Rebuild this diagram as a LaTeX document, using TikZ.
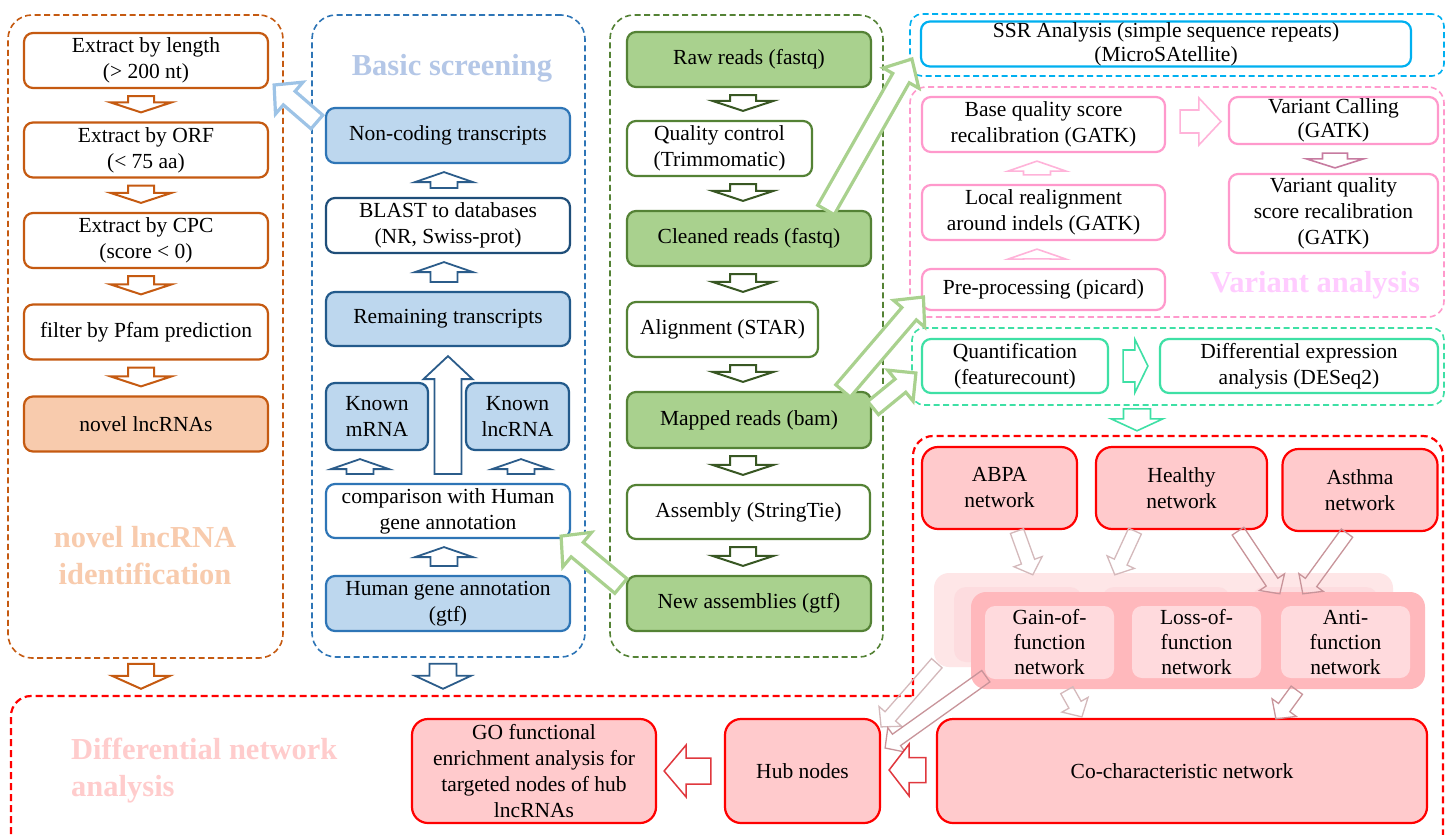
\documentclass[tikz,border=0pt]{standalone}
\usepackage{fontspec}
\setmainfont{Liberation Serif}
\usetikzlibrary{calc}
\definecolor{orng}{HTML}{C55A11}
\definecolor{orngfill}{HTML}{F8CBAD}
\definecolor{bluec}{HTML}{2E75B6}
\definecolor{blued}{HTML}{1F4E79}
\definecolor{bluearr}{HTML}{2B5C8A}
\definecolor{bluefill}{HTML}{BDD7EE}
\definecolor{bluetitle}{HTML}{B4C7E7}
\definecolor{bluelight}{HTML}{9DC3E6}
\definecolor{grn}{HTML}{548235}
\definecolor{grnd}{HTML}{385723}
\definecolor{grnfill}{HTML}{A9D18E}
\definecolor{cyanb}{HTML}{00B0F0}
\definecolor{pinkb}{HTML}{FF99CC}
\definecolor{pinkarr}{HTML}{FFB3D9}
\definecolor{pinkdark}{HTML}{C77BA0}
\definecolor{pinktitle}{HTML}{FFCCFF}
\definecolor{mint}{HTML}{3EE0A5}
\definecolor{redb}{HTML}{FF0000}
\definecolor{redfill}{HTML}{FFCACC}
\definecolor{redtitle}{HTML}{FFCCCC}
\definecolor{redarr}{HTML}{E0383E}
\definecolor{grpmain}{HTML}{FFB8BC}
\definecolor{grpin}{HTML}{FFDADD}
\definecolor{grpshadow}{HTML}{FEE6E7}
\definecolor{grpghost}{HTML}{FDDCDF}
\definecolor{arrlight}{HTML}{D4B9BB}
\definecolor{arrdark}{HTML}{C8949A}
% block arrow: style, tail coord, tip coord, half shaft, half head, head length
\newcommand\blockarr[6]{%
  \coordinate (ba-h) at ($(#3)!#6!(#2)$);
  \draw[#1] ($(#2)!#4!90:(#3)$) -- ($(ba-h)!#4!90:(#3)$) -- ($(ba-h)!#5!90:(#3)$) -- (#3)
    -- ($(ba-h)!#5!-90:(#3)$) -- ($(ba-h)!#4!-90:(#3)$) -- ($(#2)!#4!-90:(#3)$) -- cycle;}
\newcommand\darr[4]{%
  \coordinate (va-t) at ($(#2.south -| #4,0)+(0,7)$);
  \coordinate (va-h) at ($(#3.north -| #4,0)+(0,-9)$);
  \blockarr{#1}{va-t}{va-h}{13pt}{30.5pt}{10pt}}
\newcommand\uarr[4]{%
  \coordinate (va-t) at ($(#2.north -| #4,0)+(0,-9)$);
  \coordinate (va-h) at ($(#3.south -| #4,0)+(0,8)$);
  \blockarr{#1}{va-t}{va-h}{13.5pt}{29pt}{10pt}}
\tikzset{
  sz/.style 2 args={minimum width=#1, minimum height=#2},
  txt/.style={font=\fontsize{21.5}{26}\selectfont, align=center},
  box/.style={txt, draw, rounded corners=9pt, line width=2.2pt, inner sep=1pt, fill=white},
  obox/.style={box, draw=orng},
  bbox/.style={box, draw=bluec},
  gbox/.style={box, draw=grn},
  pbox/.style={box, draw=pinkb},
  mbox/.style={box, draw=mint},
  rbox/.style={box, draw=redb, fill=redfill, rounded corners=16pt},
  tight/.style={inner sep=0pt, font=\fontsize{21.5}{24}\selectfont},
  cont/.style={draw, dash pattern=on 6pt off 3.5pt, line width=1.6pt, rounded corners=24pt, inner sep=0pt},
  ttl/.style={font=\bfseries\fontsize{30.5}{37}\selectfont, align=center, inner sep=0pt},
  oarr/.style={draw=orng, line width=2pt, fill=white},
  barr/.style={draw=bluearr, line width=1.8pt, fill=white},
  garr/.style={draw=grnd, line width=2pt, fill=white},
  conn/.style={draw=grnfill, line width=3.2pt, fill=white},
  lbarr/.style={draw=bluelight, line width=3.2pt, fill=white},
  parr/.style={draw=pinkarr, line width=1.6pt, fill=white},
  pdarr/.style={draw=pinkdark, line width=1.6pt, fill=white},
  marr/.style={draw=mint, line width=1.6pt, fill=white},
  narr/.style={draw=arrlight, line width=1.3pt},
  ndarr/.style={draw=arrdark, line width=1.3pt},
  rarr/.style={draw=redarr, line width=1.5pt, fill=white},
  gin/.style={txt, fill=grpin, rounded corners=10pt, inner sep=0pt, font=\fontsize{21.5}{25}\selectfont},
}
\begin{document}
\begin{tikzpicture}[x=1pt, y=-1pt]
\useasboundingbox[fill=white] (0,0) rectangle (1446,835);

% containers
\node[cont, draw=orng, sz={275}{643}] (ocont) at (145.5,336.5) {};
\node[cont, draw=bluec, sz={273}{642}] (bcont) at (448.5,336) {};
\node[cont, draw=grn, sz={273}{642}] (gcont) at (746.5,336) {};
\node[cont, draw=cyanb, sz={534}{62}, rounded corners=12pt] (scont) at (1177,45) {};
\node[cont, draw=pinkb, sz={534}{230}, rounded corners=16pt] (pcont) at (1177,202) {};
\node[cont, draw=mint, sz={532}{77}, rounded corners=12pt] (mcont) at (1178,366.5) {};
\draw[dash pattern=on 7pt off 4pt, line width=2.2pt, draw=redb, rounded corners=20pt] (11,845) -- (11,696) -- (913,696);
\draw[dash pattern=on 7pt off 4pt, line width=2.2pt, draw=redb, rounded corners=20pt] (913,696) -- (913,436) -- (1443,436) -- (1443,845);

% titles
\node[ttl, text=orngfill] (t1) at (145,556) {novel lncRNA\\identification};
\node[ttl, text=bluetitle] (t2) at (452,68) {Basic screening};
\node[ttl, text=pinktitle] (t3) at (1315,285) {Variant analysis};
\node[ttl, text=redtitle, anchor=west, align=left] (t4) at (71,771) {Differential network\\analysis};

% orange column
\node[obox, sz={244}{55}] (e1) at (146,60.5) {Extract by length\\(> 200 nt)};
\node[obox, sz={244}{55}] (e2) at (146,150) {Extract by ORF\\(< 75 aa)};
\node[obox, sz={244}{55}] (e3) at (146,240.5) {Extract by CPC\\(score < 0)};
\node[obox, sz={244}{55}] (e4) at (146,332) {filter by Pfam prediction};
\node[obox, fill=orngfill, sz={244}{55}] (e5) at (146,424) {novel lncRNAs};

% blue column
\node[bbox, fill=bluefill, sz={244}{55}] (nc) at (448,135.5) {Non-coding transcripts};
\node[bbox, draw=blued, sz={244}{55}] (bl) at (448,225.5) {BLAST to databases\\(NR, Swiss-prot)};
\node[bbox, draw=blued!70!bluec, fill=bluefill, sz={244}{54}] (rem) at (448,319) {Remaining transcripts};
\node[bbox, draw=blued!70!bluec, fill=bluefill, sz={102}{67}] (km) at (377,416.5) {Known\\mRNA};
\node[bbox, draw=blued!70!bluec, fill=bluefill, sz={103}{67}] (kl) at (517.5,416.5) {Known\\lncRNA};
\node[bbox, sz={244}{54}] (cmp) at (448,511) {comparison with Human\\gene annotation};
\node[bbox, fill=bluefill, sz={244}{55}] (hg) at (448,603.5) {Human gene annotation\\(gtf)};

% green column
\node[gbox, fill=grnfill, sz={244}{55}] (raw) at (749,59.5) {Raw reads (fastq)};
\node[gbox, sz={185}{55}] (qc) at (719.5,148.5) {Quality control\\(Trimmomatic)};
\node[gbox, fill=grnfill, sz={244}{55}] (cr) at (749,238.5) {Cleaned reads (fastq)};
\node[gbox, sz={191}{55}] (al) at (722.5,329.5) {Alignment (STAR)};
\node[gbox, fill=grnfill, sz={244}{56}] (mr) at (749,420) {Mapped reads (bam)};
\node[gbox, sz={243}{54}] (as) at (748.5,512) {Assembly (StringTie)};
\node[gbox, fill=grnfill, sz={244}{55}] (na) at (749,603.5) {New assemblies (gtf)};

% right top
\node[box, draw=cyanb, tight, sz={490}{45}] (ssr) at (1166,44) {SSR Analysis (simple sequence repeats)\\(MicroSAtellite)};
\node[pbox, sz={243}{55}] (bq) at (1043.5,124.5) {Base quality score\\recalibration (GATK)};
\node[pbox, tight, sz={209}{47}] (vc) at (1333.5,120.5) {Variant Calling\\(GATK)};
\node[pbox, sz={209}{79}] (vq) at (1333.5,213.5) {Variant quality\\score recalibration\\(GATK)};
\node[pbox, sz={243}{55}] (lr) at (1043.5,212.5) {Local realignment\\around indels (GATK)};
\node[pbox, sz={243}{41}] (pp) at (1043.5,289.5) {Pre-processing (picard)};
\node[mbox, sz={186}{54}] (qf) at (1015,366) {Quantification\\(featurecount)};
\node[mbox, sz={278}{54}] (de) at (1299,366) {Differential expression\\analysis (DESeq2)};

% networks
\node[rbox, sz={155}{82}] (abpa) at (999.5,488) {ABPA\\network};
\node[rbox, sz={171}{82}] (hl) at (1181.5,488) {Healthy\\network};
\node[rbox, sz={155}{82}] (ast) at (1360,490) {Asthma\\network};
\fill[grpshadow, rounded corners=15pt] (934,573) rectangle (1393,667);
\fill[grpghost, rounded corners=12pt] (954,587) rectangle (1082,662);
\fill[grpghost, rounded corners=12pt] (1102,587) rectangle (1230,662);
\fill[grpghost, rounded corners=12pt] (1252,587) rectangle (1378,662);
\node[fill=grpmain, rounded corners=15pt, sz={454}{97}, inner sep=0pt] (grp) at (1198,640.5) {};
\node[gin, sz={129}{73}] (gain) at (1049.5,642.5) {Gain-of-\\function\\network};
\node[gin, sz={129}{72}] (loss) at (1196.5,642) {Loss-of-\\function\\network};
\node[gin, sz={129}{72}] (anti) at (1345.5,642) {Anti-\\function\\network};
\node[rbox, sz={490}{104}] (cc) at (1182,771) {Co-characteristic network};
\node[rbox, sz={155}{104}] (hub) at (802.5,771) {Hub nodes};
\node[rbox, sz={244}{104}] (go) at (534,771) {GO functional\\enrichment analysis for\\targeted nodes of hub\\lncRNAs};

% column arrows
\darr{oarr}{e1}{e2}{141}
\darr{oarr}{e2}{e3}{141}
\darr{oarr}{e3}{e4}{141}
\darr{oarr}{e4}{e5}{141}
\uarr{barr}{hg}{cmp}{444}
\uarr{barr}{cmp}{km}{360}
\uarr{barr}{cmp}{kl}{521}
\uarr{barr}{rem}{bl}{444}
\uarr{barr}{bl}{nc}{444}
\coordinate (tt) at ($(cmp.north -| 448,0)+(0,-9)$);
\coordinate (th) at ($(rem.south -| 448,0)+(0,9)$);
\blockarr{barr}{tt}{th}{13.5pt}{24.5pt}{23pt}
\darr{garr}{raw}{qc}{743}
\darr{garr}{qc}{cr}{743}
\darr{garr}{cr}{al}{743}
\darr{garr}{al}{mr}{743}
\darr{garr}{mr}{as}{743}
\darr{garr}{as}{na}{743}
\coordinate (o1) at ($(ocont.south)+(-4.5,5)$);
\coordinate (o2) at ($(ocont.south)+(-4.5,30)$);
\blockarr{oarr}{o1}{o2}{13pt}{29pt}{13pt}
\coordinate (b1) at ($(bcont.south)+(-5.5,6)$);
\coordinate (b2) at ($(bcont.south)+(-5.5,31)$);
\blockarr{barr}{b1}{b2}{13.5pt}{28pt}{13pt}

% pink / mint arrows
\uarr{parr}{pp}{lr}{1037}
\uarr{parr}{lr}{bq}{1037}
\coordinate (p1) at ($(bq.east)+(14,-3)$);
\coordinate (p2) at ($(vc.west)+(-7,1)$);
\blockarr{parr}{p1}{p2}{11.5pt}{23.5pt}{22pt}
\coordinate (p3) at ($(vc.south -| 1335,0)+(0,8)$);
\coordinate (p4) at ($(vq.north -| 1335,0)+(0,-5)$);
\blockarr{pdarr}{p3}{p4}{12.5pt}{28.5pt}{9pt}
\coordinate (m1) at ($(qf.east)+(14,0)$);
\coordinate (m2) at ($(de.west)+(-11,0)$);
\blockarr{marr}{m1}{m2}{16pt}{26.5pt}{13pt}
\coordinate (m3) at ($(mcont.south -| 1137,0)+(0,3)$);
\coordinate (m4) at ($(mcont.south -| 1137,0)+(0,25)$);
\blockarr{marr}{m3}{m4}{13.5pt}{26pt}{12pt}

% green connectors
\coordinate (g1) at ($(cr.north)+(77,0)$);
\coordinate (g2) at ($(ssr.west)+(-8,15)$);
\blockarr{conn}{g1}{g2}{9.5pt}{20.5pt}{22pt}
\coordinate (g3) at ($(mr.north)+(94,0)$);
\coordinate (g4) at ($(pp.west)+(2.5,7.5)$);
\blockarr{conn}{g3}{g4}{9.5pt}{20.5pt}{22pt}
\coordinate (g5) at ($(mr.east)+(1,-12)$);
\coordinate (g6) at ($(qf.west)+(-5,7)$);
\blockarr{conn}{g5}{g6}{8.5pt}{20pt}{20pt}
\coordinate (g7) at ($(na.west)+(-5,-17.5)$);
\coordinate (g8) at ($(cmp.south east)+(-10,-3)$);
\blockarr{conn}{g7}{g8}{9.5pt}{22.5pt}{21pt}
\coordinate (lb1) at ($(nc.west)+(-8,-13.5)$);
\coordinate (lb2) at ($(e1.east)+(5,24.5)$);
\blockarr{lbarr}{lb1}{lb2}{9pt}{21pt}{20pt}

% network arrows
\coordinate (n1) at ($(abpa.south)+(17.5,1)$);
\coordinate (n2) at ($(grp.north west)+(62,-17)$);
\blockarr{narr}{n1}{n2}{7pt}{15pt}{14pt}
\coordinate (n3) at ($(hl.south)+(-46.5,1)$);
\coordinate (n4) at ($(grp.north west)+(144,-17)$);
\blockarr{narr}{n3}{n4}{7pt}{15pt}{14pt}
\coordinate (n5) at ($(hl.south)+(56.5,1)$);
\coordinate (n6) at ($(anti.north west)+(-1,-12)$);
\blockarr{ndarr}{n5}{n6}{7pt}{15pt}{14pt}
\coordinate (n7) at ($(ast.south)+(-13,1)$);
\coordinate (n8) at ($(anti.north west)+(22,-12)$);
\blockarr{ndarr}{n7}{n8}{7pt}{15pt}{14pt}
\coordinate (n9) at ($(grp.south west)+(96,1)$);
\coordinate (n10) at ($(cc.north west)+(146,-1)$);
\blockarr{narr}{n9}{n10}{7pt}{15pt}{14pt}
\coordinate (n11) at ($(grp.south west)+(326,1)$);
\coordinate (n12) at ($(cc.north west)+(340,1)$);
\blockarr{ndarr}{n11}{n12}{7pt}{15pt}{14pt}
\coordinate (n13) at ($(grp.south west)+(-34,-26)$);
\coordinate (n14) at ($(hub.north east)+(0,9)$);
\blockarr{narr}{n13}{n14}{7pt}{15pt}{14pt}
\coordinate (n15) at ($(grp.south west)+(15,-13)$);
\coordinate (n16) at ($(hub.east)+(4,-23)$);
\blockarr{ndarr}{n15}{n16}{7pt}{15pt}{14pt}

% red arrows
\coordinate (r1) at ($(cc.west)+(-10,-1)$);
\coordinate (r2) at ($(hub.east)+(8,-1)$);
\blockarr{rarr}{r1}{r2}{12.5pt}{26pt}{20pt}
\coordinate (r3) at ($(hub.west)+(-13,0)$);
\coordinate (r4) at ($(go.east)+(7,0)$);
\blockarr{rarr}{r3}{r4}{13pt}{26pt}{22pt}
\end{tikzpicture}
\end{document}
